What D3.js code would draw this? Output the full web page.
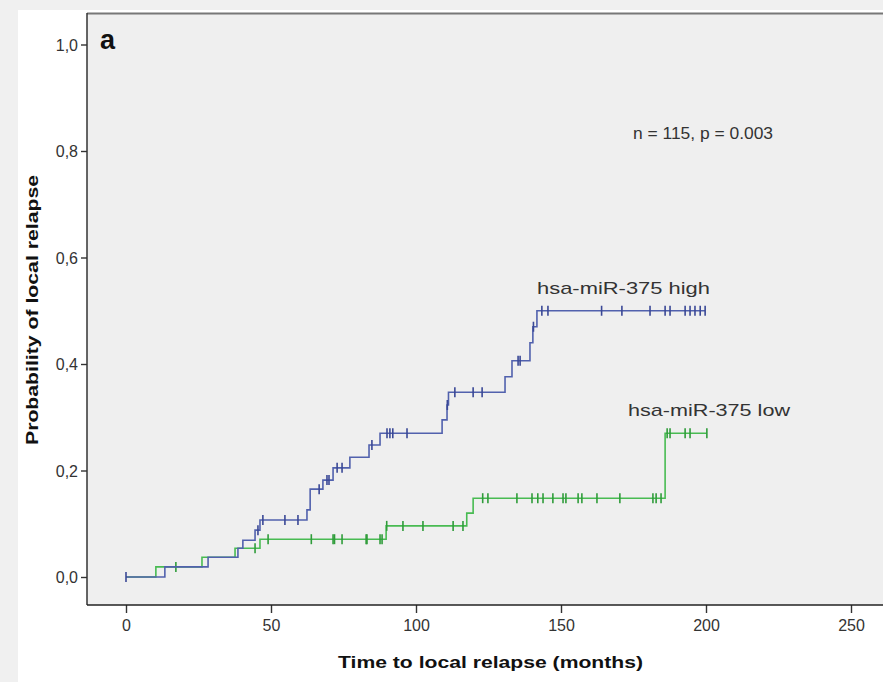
<!DOCTYPE html>
<html>
<head>
<meta charset="utf-8">
<script src="https://cdn.jsdelivr.net/npm/d3@7"></script>
<style>
  body { margin: 0; background: #f0f0f0; }
  svg { display: block; }
  .tick text { font-family: "Liberation Sans", Arial, sans-serif; fill: #333; }
</style>
</head>
<body>
<svg id="km" width="883" height="682"></svg>
<script>
// step times (months) and cumulative probability of local relapse
var highStepTime = [0, 13.4, 28.3, 38.6, 40.3, 44.5, 46.2, 62.4, 63.5, 67.9, 71.4, 77.2, 83.8, 87.6, 109.0, 110.7, 111.2, 130.7, 133.1, 139.3, 140.3, 141.7];
var highStepProb = [0, 0.019, 0.037, 0.054, 0.069, 0.088, 0.107, 0.126, 0.165, 0.182, 0.205, 0.225, 0.248, 0.270, 0.295, 0.323, 0.347, 0.376, 0.406, 0.440, 0.470, 0.500];
var highEnd = 199.7;
var highCensor = [0, 45.5, 47.2, 54.8, 59.3, 66.6, 69.3, 70.0, 72.8, 74.5, 84.8, 90.0, 91.0, 92.0, 96.9, 110.8, 113.4, 119.7, 122.8, 135.2, 135.9, 140.5, 143.4, 145.5, 164.0, 171.0, 180.7, 185.9, 187.6, 192.8, 194.5, 196.2, 198.0, 199.7];

var lowStepTime = [0, 10.3, 26.2, 37.6, 46.2, 89.7, 117.5, 119.7, 185.9];
var lowStepProb = [0, 0.019, 0.037, 0.054, 0.071, 0.096, 0.120, 0.148, 0.270];
var lowEnd = 200.3;
var lowCensor = [17.2, 44.5, 49.0, 63.9, 71.4, 71.9, 74.5, 82.8, 83.1, 87.6, 88.3, 89.9, 95.5, 102.4, 112.8, 116.2, 123.0, 124.8, 134.8, 140.0, 142.0, 143.8, 147.2, 150.7, 151.7, 155.9, 157.2, 162.4, 170.3, 181.7, 182.8, 184.5, 186.6, 187.6, 192.8, 194.5, 200.3];

var xTicks = [0, 50, 100, 150, 200, 250];
var yTicks = [0, 0.2, 0.4, 0.6, 0.8, 1.0];

var svg = d3.select('#km');

// white panel and plot area
svg.append('rect').attr('x', 18).attr('y', 10).attr('width', 883).attr('height', 682).attr('fill', '#ffffff');
svg.append('rect').attr('x', 87).attr('y', 13).attr('width', 820).attr('height', 592).attr('fill', '#efefef');

var x = d3.scaleLinear().domain([0, 250]).range([126, 851]);
var y = d3.scaleLinear().domain([0, 1]).range([577, 44.5]);

// axes
var yAxis = svg.append('g')
    .attr('transform', 'translate(87,0)')
    .call(d3.axisLeft(y).tickValues(yTicks).tickSize(6).tickPadding(3)
        .tickFormat(d => d3.format('.1f')(d).replace('.', ',')));
yAxis.select('.domain').remove();
yAxis.selectAll('.tick line').attr('stroke', '#333').attr('stroke-width', 1.4);
yAxis.selectAll('.tick text').style('font-size', '16px').attr('dy', '0.36em');

var xAxis = svg.append('g')
    .attr('transform', 'translate(0,605)')
    .call(d3.axisBottom(x).tickValues(xTicks).tickSize(8).tickPadding(7));
xAxis.select('.domain').remove();
xAxis.selectAll('.tick line').attr('stroke', '#333').attr('stroke-width', 1.4);
xAxis.selectAll('.tick text').style('font-size', '16px');

// frame
svg.append('line').attr('x1', 87).attr('x2', 883).attr('y1', 13.5).attr('y2', 13.5)
    .attr('stroke', '#777').attr('stroke-width', 2);
svg.append('line').attr('x1', 87).attr('x2', 87).attr('y1', 13).attr('y2', 605)
    .attr('stroke', '#333').attr('stroke-width', 1.5);
svg.append('line').attr('x1', 87).attr('x2', 883).attr('y1', 605).attr('y2', 605)
    .attr('stroke', '#222').attr('stroke-width', 1.5);

function drawCurve(times, probs, end, censor, lineColor, markColor) {
    var pts = times.map((t, i) => [t, probs[i]]);
    pts.push([end, probs[probs.length - 1]]);
    var line = d3.line().x(d => x(d[0])).y(d => y(d[1])).curve(d3.curveStepAfter);
    svg.append('path')
        .datum(pts)
        .attr('fill', 'none')
        .attr('stroke', lineColor)
        .attr('stroke-width', 1.6)
        .attr('d', line);

    var bis = d3.bisector(d => d).right;
    svg.append('g').selectAll('line')
        .data(censor)
        .enter()
        .append('line')
            .attr('x1', d => x(d)).attr('x2', d => x(d))
            .attr('y1', d => y(probs[bis(times, d) - 1]) - 5)
            .attr('y2', d => y(probs[bis(times, d) - 1]) + 5)
            .attr('stroke', markColor)
            .attr('stroke-width', 1.6);
}

drawCurve(lowStepTime, lowStepProb, lowEnd, lowCensor, '#48bb52', '#2f9c3a');
drawCurve(highStepTime, highStepProb, highEnd, highCensor, '#5161ad', '#3a4896');

// texts
var font = '"Liberation Sans", Arial, sans-serif';
svg.append('text').attr('x', 100).attr('y', 49).text('a')
    .style('font-family', font).style('font-weight', 'bold').style('font-size', '27px').attr('fill', '#111');
svg.append('text').attr('x', 633).attr('y', 139).text('n = 115, p = 0.003')
    .style('font-family', font).style('font-size', '16px').attr('fill', '#333')
    .attr('textLength', 140).attr('lengthAdjust', 'spacingAndGlyphs');
svg.append('text').attr('x', 537).attr('y', 294).text('hsa-miR-375 high')
    .style('font-family', font).style('font-size', '17px').attr('fill', '#333')
    .attr('textLength', 173).attr('lengthAdjust', 'spacingAndGlyphs');
svg.append('text').attr('x', 628).attr('y', 416).text('hsa-miR-375 low')
    .style('font-family', font).style('font-size', '17px').attr('fill', '#333')
    .attr('textLength', 162).attr('lengthAdjust', 'spacingAndGlyphs');

svg.append('text').attr('x', 338).attr('y', 668).text('Time to local relapse (months)')
    .style('font-family', font).style('font-weight', 'bold').style('font-size', '17px').attr('fill', '#111')
    .attr('textLength', 305).attr('lengthAdjust', 'spacingAndGlyphs');
svg.append('text')
    .attr('transform', 'translate(38,445) rotate(-90)')
    .text('Probability of local relapse')
    .style('font-family', font).style('font-weight', 'bold').style('font-size', '16px').attr('fill', '#111')
    .attr('textLength', 270).attr('lengthAdjust', 'spacingAndGlyphs');
</script>
</body>
</html>
